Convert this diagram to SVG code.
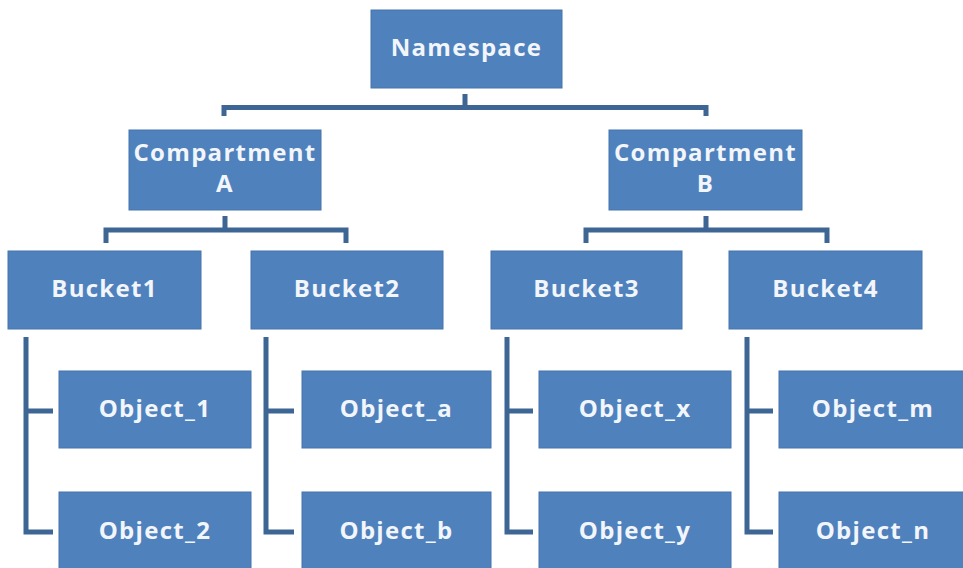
<svg xmlns="http://www.w3.org/2000/svg" width="963" height="568" viewBox="0 0 963 568">
<style>
.box{fill:#4f81bd;stroke:#4775ad;stroke-width:1}
.lbl{font-family:"Open Sans","Liberation Sans",sans-serif;font-weight:bold;font-size:24px;fill:#f2f5fa;text-anchor:middle;letter-spacing:1.3px}
.con{fill:none;stroke:#3d6695;stroke-width:5}
</style>
<rect width="963" height="568" fill="#ffffff"/>
<g id="connectors">
<path class="con" d="M465,94 V108 M224,116 V107.5 H706 V116"/>
<path class="con" d="M225,216 V230 M106,243 V230 H346 V243"/>
<path class="con" d="M706,216 V230 M586,243 V230 H827 V243"/>
<path class="con" d="M26,337 V532 H53 M26,411 H53"/>
<path class="con" d="M266,337 V532 H294 M266,411 H294"/>
<path class="con" d="M507,337 V532 H533 M507,411 H533"/>
<path class="con" d="M747,337 V532 H773 M747,411 H773"/>
</g>
<g id="namespace"><rect class="box" x="371" y="10" width="191" height="78"/><text class="lbl" x="466.5" y="56">Namespace</text></g>
<g id="compartmentA"><rect class="box" x="129" y="130" width="192" height="80"/><text class="lbl" x="225" y="161">Compartment</text><text class="lbl" x="225" y="192">A</text></g>
<g id="compartmentB"><rect class="box" x="609" y="130" width="193" height="80"/><text class="lbl" x="705.5" y="161">Compartment</text><text class="lbl" x="705.5" y="192">B</text></g>
<g id="bucket1"><rect class="box" x="8" y="251" width="193" height="78"/><text class="lbl" x="104.5" y="297">Bucket1</text></g>
<g id="bucket2"><rect class="box" x="251" y="251" width="192" height="78"/><text class="lbl" x="347" y="297">Bucket2</text></g>
<g id="bucket3"><rect class="box" x="491" y="251" width="191" height="78"/><text class="lbl" x="586.5" y="297">Bucket3</text></g>
<g id="bucket4"><rect class="box" x="729" y="251" width="193" height="78"/><text class="lbl" x="825.5" y="297">Bucket4</text></g>
<g id="object_1"><rect class="box" x="59" y="371" width="192" height="77"/><text class="lbl" x="155" y="417">Object_1</text></g>
<g id="object_2"><rect class="box" x="59" y="492" width="192" height="80"/><text class="lbl" x="155" y="539">Object_2</text></g>
<g id="object_a"><rect class="box" x="302" y="371" width="189" height="77"/><text class="lbl" x="396.5" y="417">Object_a</text></g>
<g id="object_b"><rect class="box" x="302" y="492" width="189" height="80"/><text class="lbl" x="396.5" y="539">Object_b</text></g>
<g id="object_x"><rect class="box" x="539" y="371" width="192" height="77"/><text class="lbl" x="635" y="417">Object_x</text></g>
<g id="object_y"><rect class="box" x="539" y="492" width="192" height="80"/><text class="lbl" x="635" y="539">Object_y</text></g>
<g id="object_m"><rect class="box" x="779" y="371" width="190" height="77"/><text class="lbl" x="873" y="417">Object_m</text></g>
<g id="object_n"><rect class="box" x="779" y="492" width="190" height="80"/><text class="lbl" x="873" y="539">Object_n</text></g>
</svg>
